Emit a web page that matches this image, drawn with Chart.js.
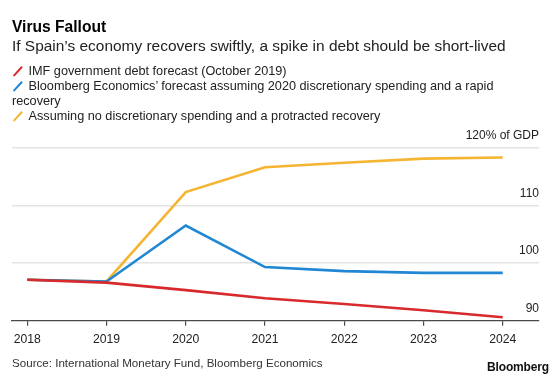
<!DOCTYPE html>
<html>
<head>
<meta charset="utf-8">
<script src="https://cdn.jsdelivr.net/npm/chart.js@4.4.1/dist/chart.umd.min.js"></script>
<style>
  html, body { margin: 0; padding: 0; background: #fff; }
  body { width: 560px; height: 378px; position: relative; overflow: hidden; font-family: "Liberation Sans", Arial, sans-serif; color: #222; }
  #wrap { position: absolute; left: 0; top: 0; width: 560px; height: 378px; }
  .title { position: absolute; left: 12px; top: 17.5px; font-size: 15.6px; line-height: 18px; font-weight: bold; color: #000; }
  .sub { position: absolute; left: 12px; top: 37px; font-size: 15.45px; line-height: 18px; color: #222; }
  .legend { position: absolute; left: 12px; top: 64px; width: 500px; font-size: 12.7px; line-height: 15px; color: #222; }
  .legend div { margin: 0; }
  .sw { display: inline-block; width: 2.4px; height: 12.5px; transform: rotate(42deg); margin: 0 9.6px 0 4.5px; vertical-align: -2px; border-radius: 1px; }
  .src { position: absolute; left: 12px; top: 355.5px; font-size: 11.6px; line-height: 14px; color: #333; }
  .logo { position: absolute; left: 487px; top: 360px; font-size: 12px; line-height: 14px; font-weight: bold; color: #111; letter-spacing: -0.15px; }
</style>
</head>
<body>
<div id="wrap"><canvas id="c" width="560" height="378"></canvas></div>
<div class="title">Virus Fallout</div>
<div class="sub">If Spain’s economy recovers swiftly, a spike in debt should be short-lived</div>
<div class="legend" id="legend"></div>
<div class="src">Source: International Monetary Fund, Bloomberg Economics</div>
<div class="logo">Bloomberg</div>
<script>
const years = [2018, 2019, 2020, 2021, 2022, 2023, 2024];
const imfForecast = [97.1, 96.6, 95.3, 93.9, 92.9, 91.8, 90.6];
const rapidRecovery = [97.1, 96.8, 106.5, 99.3, 98.6, 98.3, 98.3];
const protractedRecovery = [97.1, 96.8, 112.3, 116.6, 117.4, 118.1, 118.3];
const yTicks = [90, 100, 110, 120];
const seriesNames = [
  "IMF government debt forecast (October 2019)",
  "Bloomberg Economics’ forecast assuming 2020 discretionary spending and a rapid recovery",
  "Assuming no discretionary spending and a protracted recovery"
];
const seriesColors = ["#d8292d", "#1f87d4", "#f5b532"];
const seriesValues = [imfForecast, rapidRecovery, protractedRecovery];

// HTML legend
const leg = document.getElementById('legend');
seriesNames.forEach((n, i) => {
  const d = document.createElement('div');
  d.innerHTML = '<span class="sw" style="background:' + seriesColors[i] + '"></span>' + n;
  leg.appendChild(d);
});

const datasets = seriesNames.map((n, i) => ({
  label: n,
  data: years.map((yr, j) => ({ x: yr, y: seriesValues[i][j] })),
  borderColor: seriesColors[i],
  backgroundColor: seriesColors[i],
  borderWidth: 2.6,
  pointRadius: 0,
  tension: 0,
  fill: false
}));

new Chart(document.getElementById('c'), {
  type: 'line',
  data: { datasets },
  options: {
    responsive: false,
    animation: false,
    layout: { padding: { left: 12, right: 21, top: 147.7, bottom: 27.3 } },
    plugins: { legend: { display: false }, tooltip: { enabled: false } },
    scales: {
      x: {
        type: 'linear',
        min: 2017.807,
        max: 2024.458,
        afterBuildTicks: s => { s.ticks = years.map(v => ({ value: v })); },
        afterFit: s => { s.height = 30; },
        border: { display: true, color: '#4a4a4a', width: 1.2 },
        grid: { drawOnChartArea: false, drawTicks: true, tickLength: 5, color: '#4a4a4a', lineWidth: 1.2 },
        ticks: { padding: 7, color: '#222', font: { family: 'Liberation Sans', size: 12.2 }, maxRotation: 0, autoSkip: false,
          callback: v => String(v) }
      },
      y: {
        position: 'right',
        min: 90,
        max: 120,
        afterBuildTicks: s => { s.ticks = yTicks.map(v => ({ value: v })); },
        afterFit: s => { s.width = 0; },
        border: { display: false },
        grid: { drawTicks: false, tickLength: 0, color: c => c.tick && c.tick.value === 90 ? 'rgba(0,0,0,0)' : '#e3e3e3', lineWidth: 1.6 },
        ticks: { mirror: true, padding: 0, labelOffset: -12, color: '#222', font: { family: 'Liberation Sans', size: 12 },
          callback: v => v === 120 ? '120% of GDP' : String(v) }
      }
    }
  }
});
</script>
</body>
</html>
